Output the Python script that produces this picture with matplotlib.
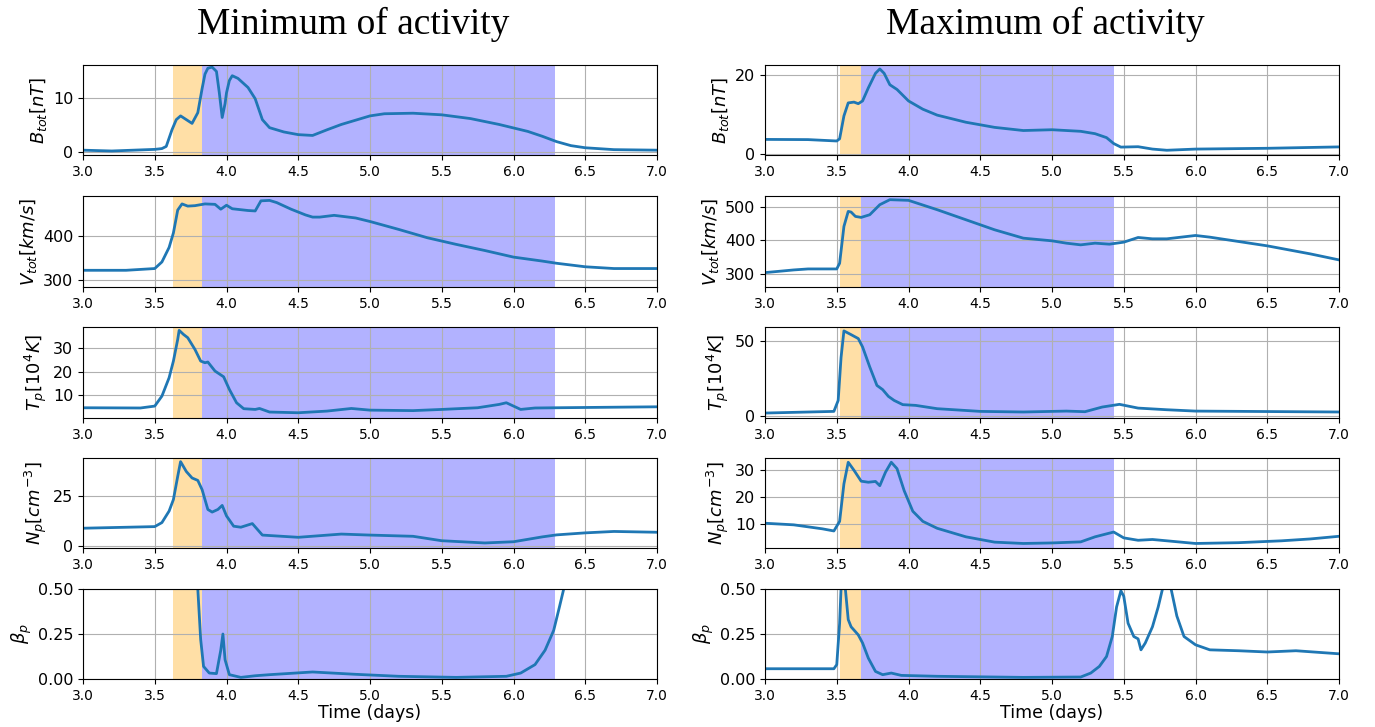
import matplotlib.pyplot as plt

# ---- Minimum of activity (left column) ----
min_b_t = [3.0, 3.2, 3.5, 3.55, 3.58, 3.62, 3.65, 3.68, 3.72, 3.76, 3.80, 3.83, 3.85, 3.87, 3.90,
           3.93, 3.95, 3.97, 3.99, 4.0, 4.02, 4.04, 4.08, 4.15, 4.2, 4.25, 4.3, 4.4, 4.5, 4.6,
           4.7, 4.8, 4.9, 5.0, 5.1, 5.3, 5.5, 5.7, 5.9, 6.1, 6.2, 6.3, 6.4, 6.5, 6.7, 7.0]
min_b = [0.3, 0.15, 0.45, 0.6, 1.0, 4.1, 6.0, 6.7, 6.0, 5.3, 7.3, 11.8, 14.5, 15.6, 15.8,
         15.0, 11.0, 6.4, 9.0, 11.0, 13.3, 14.2, 13.7, 12.0, 9.9, 6.0, 4.5, 3.7, 3.2, 3.05,
         4.1, 5.1, 5.9, 6.7, 7.1, 7.2, 6.9, 6.2, 5.1, 3.8, 2.9, 1.9, 1.15, 0.75, 0.4, 0.3]

min_v_t = [3.0, 3.3, 3.5, 3.55, 3.6, 3.63, 3.66, 3.69, 3.73, 3.78, 3.85, 3.92, 3.96, 4.0, 4.04,
           4.15, 4.2, 4.24, 4.3, 4.35, 4.45, 4.55, 4.6, 4.65, 4.75, 4.9, 5.0, 5.2, 5.4, 5.6,
           5.8, 6.0, 6.2, 6.3, 6.5, 6.7, 7.0]
min_v = [322, 322, 326, 341, 374, 407, 459, 473, 468, 469, 473, 472, 461, 470, 462,
         458, 457, 480, 481, 476, 461, 448, 443, 443, 447, 441, 433, 415, 396, 381,
         367, 352, 343, 338, 330, 326, 326]

min_tp_t = [3.0, 3.4, 3.5, 3.55, 3.6, 3.63, 3.66, 3.67, 3.70, 3.73, 3.78, 3.82, 3.85, 3.87, 3.92,
            3.98, 4.02, 4.07, 4.12, 4.2, 4.23, 4.3, 4.5, 4.7, 4.87, 5.0, 5.3, 5.5, 5.75, 5.9,
            5.95, 6.0, 6.05, 6.15, 6.3, 7.0]
min_tp = [4.8, 4.7, 5.5, 9.7, 17.4, 24.4, 33.5, 37.3, 35.6, 34.2, 29.3, 24.4, 23.7, 24.0, 20.2,
          17.8, 12.5, 6.9, 4.4, 4.1, 4.5, 3.0, 2.7, 3.4, 4.5, 3.8, 3.6, 4.1, 4.8, 6.2,
          6.9, 5.5, 4.1, 4.7, 4.8, 5.2]

min_np_t = [3.0, 3.5, 3.55, 3.6, 3.63, 3.66, 3.68, 3.72, 3.76, 3.80, 3.83, 3.87, 3.90, 3.94, 3.97,
            4.0, 4.05, 4.1, 4.18, 4.25, 4.5, 4.8, 5.0, 5.3, 5.5, 5.8, 6.0, 6.2, 6.3, 6.5,
            6.7, 7.0]
min_np = [8.8, 9.6, 11.6, 17.3, 23.0, 34.5, 41.8, 36.9, 33.7, 32.5, 27.9, 18.1, 16.8, 18.1, 20.1,
          14.9, 9.8, 9.3, 11.1, 5.4, 4.3, 5.9, 5.4, 4.8, 2.6, 1.5, 2.1, 4.5, 5.5, 6.5,
          7.2, 6.8]

min_beta_t = [3.0, 3.78, 3.80, 3.82, 3.84, 3.88, 3.93, 3.96, 3.975, 3.99, 4.02, 4.1, 4.2, 4.3,
              4.6, 4.9, 5.2, 5.6, 5.95, 6.05, 6.15, 6.22, 6.28, 6.32, 6.35, 6.4, 7.0]
min_beta = [1.5, 0.9, 0.5, 0.22, 0.07, 0.033, 0.03, 0.16, 0.25, 0.107, 0.024, 0.009, 0.018, 0.024,
            0.039, 0.026, 0.015, 0.009, 0.015, 0.033, 0.08, 0.16, 0.27, 0.4, 0.5, 0.7, 1.5]

# ---- Maximum of activity (right column) ----
max_b_t = [3.0, 3.3, 3.5, 3.52, 3.55, 3.58, 3.62, 3.65, 3.68, 3.72, 3.77, 3.80, 3.83, 3.87, 3.92,
           4.0, 4.1, 4.2, 4.4, 4.6, 4.8, 5.0, 5.2, 5.3, 5.38, 5.43, 5.48, 5.6, 5.7, 5.8,
           6.0, 6.5, 7.0]
max_b = [3.65, 3.6, 3.25, 3.8, 9.6, 12.9, 13.1, 12.7, 13.4, 16.7, 20.4, 21.5, 20.4, 17.5, 16.3,
         13.4, 11.3, 9.8, 8.0, 6.7, 5.9, 6.1, 5.7, 5.1, 4.1, 2.6, 1.7, 1.8, 1.2, 0.9,
         1.2, 1.4, 1.75]

max_v_t = [3.0, 3.2, 3.3, 3.5, 3.52, 3.55, 3.58, 3.6, 3.63, 3.67, 3.73, 3.8, 3.87, 4.0, 4.2,
           4.4, 4.6, 4.8, 5.0, 5.1, 5.2, 5.3, 5.4, 5.5, 5.6, 5.7, 5.8, 6.0, 6.1, 6.5,
           6.8, 7.0]
max_v = [304, 312, 315, 315, 332, 442, 487, 485, 472, 469, 477, 507, 522, 520, 492,
         462, 432, 407, 399, 392, 387, 392, 389, 395, 409, 405, 405, 415, 410, 384,
         360, 342]

max_tp_t = [3.0, 3.48, 3.51, 3.53, 3.55, 3.6, 3.65, 3.68, 3.73, 3.78, 3.82, 3.86, 3.9, 3.96, 4.05,
            4.2, 4.5, 4.8, 5.1, 5.23, 5.35, 5.47, 5.6, 5.8, 6.0, 7.0]
max_tp = [2.0, 3.1, 10.4, 39.0, 56.7, 54.2, 51.6, 46.0, 32.7, 20.4, 17.6, 13.1, 10.4, 7.6, 7.1,
          4.9, 3.1, 2.7, 3.3, 2.9, 6.0, 7.8, 5.3, 4.2, 3.3, 2.7]

max_np_t = [3.0, 3.2, 3.4, 3.48, 3.52, 3.55, 3.58, 3.62, 3.67, 3.72, 3.77, 3.80, 3.84, 3.88, 3.92,
            3.97, 4.03, 4.1, 4.2, 4.4, 4.6, 4.8, 5.0, 5.2, 5.3, 5.43, 5.5, 5.6, 5.7, 5.8,
            6.0, 6.3, 6.6, 6.8, 7.0]
max_np = [10.1, 9.5, 8.0, 7.2, 10.8, 24.9, 33.0, 30.0, 25.9, 25.5, 25.8, 24.2, 29.3, 33.0, 30.6,
          22.3, 14.6, 10.8, 8.2, 5.0, 3.0, 2.5, 2.7, 3.1, 5.0, 6.8, 4.6, 3.7, 4.0, 3.5,
          2.5, 2.8, 3.5, 4.2, 5.2]

max_beta_t = [3.0, 3.48, 3.5, 3.52, 3.535, 3.56, 3.58, 3.6, 3.65, 3.68, 3.72, 3.77, 3.82, 3.88, 3.95,
              4.2, 4.8, 5.2, 5.27, 5.33, 5.38, 5.42, 5.45, 5.48, 5.5, 5.53, 5.57, 5.6, 5.62, 5.65,
              5.7, 5.74, 5.77, 5.80, 5.83, 5.87, 5.92, 6.0, 6.1, 6.3, 6.5, 6.7, 7.0]
max_beta = [0.057, 0.057, 0.08, 0.31, 0.6, 0.5, 0.33, 0.29, 0.245, 0.2, 0.116, 0.042, 0.024, 0.033, 0.02,
            0.015, 0.009, 0.011, 0.033, 0.07, 0.125, 0.236, 0.4, 0.49, 0.46, 0.31, 0.236, 0.223, 0.162, 0.2,
            0.29, 0.4, 0.5, 0.56, 0.5, 0.35, 0.236, 0.19, 0.162, 0.157, 0.15, 0.157, 0.14]

labels = [r'$B_{tot}[nT]$', r'$V_{tot}[km/s]$', r'$T_p[10^4K]$', r'$N_p[cm^{-3}]$', r'$\beta_p$']

min_series = [(min_b_t, min_b), (min_v_t, min_v), (min_tp_t, min_tp), (min_np_t, min_np), (min_beta_t, min_beta)]
max_series = [(max_b_t, max_b), (max_v_t, max_v), (max_tp_t, max_tp), (max_np_t, max_np), (max_beta_t, max_beta)]

min_ylims = [(-0.6, 16.2), (284, 491), (0.5, 38.7), (-1.0, 43.6), (0, 0.5)]
max_ylims = [(-0.3, 22.5), (261, 533), (-1.3, 59.3), (0.8, 34.6), (0, 0.5)]
min_yticks = [[0, 10], [300, 400], [10, 20, 30], [0, 25], [0, 0.25, 0.5]]
max_yticks = [[0, 20], [300, 400, 500], [0, 50], [10, 20, 30], [0, 0.25, 0.5]]

# sheath (orange) and magnetic cloud (blue) intervals
min_sheath = (3.63, 3.83)
min_cloud = (3.83, 6.29)
max_sheath = (3.52, 3.67)
max_cloud = (3.67, 5.43)

fig = plt.figure(figsize=(13.75, 7.27), dpi=100)

col_left = [83 / 1375, 765 / 1375]
width = 574 / 1375
rows = [(65, 155), (196, 287), (327, 418), (458, 548), (589, 679)]

columns = [(min_series, min_ylims, min_yticks, min_sheath, min_cloud),
           (max_series, max_ylims, max_yticks, max_sheath, max_cloud)]

for c, (series, ylims, yticks, sheath, cloud) in enumerate(columns):
    for r, (top, bot) in enumerate(rows):
        ax = fig.add_axes([col_left[c], 1 - bot / 727, width, (bot - top) / 727])
        ax.axvspan(*sheath, color='orange', alpha=0.35, lw=0)
        ax.axvspan(*cloud, color='blue', alpha=0.3, lw=0)
        t, y = series[r]
        ax.plot(t, y, color='tab:blue', lw=2)
        ax.set_xlim(3, 7)
        ax.set_ylim(*ylims[r])
        ax.set_yticks(yticks[r])
        if r == 4:
            ax.set_yticklabels(['0.00', '0.25', '0.50'])
        ax.set_xticks([3.0, 3.5, 4.0, 4.5, 5.0, 5.5, 6.0, 6.5, 7.0])
        ax.tick_params(axis='x', labelsize=10)
        ax.tick_params(axis='y', labelsize=11.5)
        ax.grid(True)
        ax.set_ylabel(labels[r], fontsize=13, labelpad=3)
        if r == 4:
            ax.set_xlabel('Time (days)', fontsize=12.5, labelpad=1)

fig.text(353 / 1375, 1 - 24 / 727, 'Minimum of activity', family='Liberation Serif',
         fontsize=27, ha='center', va='center')
fig.text(1045 / 1375, 1 - 24 / 727, 'Maximum of activity', family='Liberation Serif',
         fontsize=27, ha='center', va='center')

plt.savefig('out.png', dpi=100)
